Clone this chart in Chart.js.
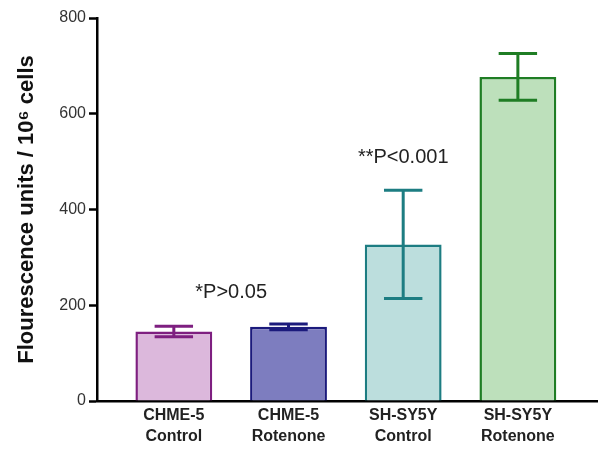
<!DOCTYPE html>
<html>
<head>
<meta charset="utf-8">
<script src="https://cdn.jsdelivr.net/npm/chart.js@4.4.1/dist/chart.umd.min.js"></script>
<style>
  html, body { margin: 0; padding: 0; background: #fff; }
  #wrap { width: 600px; height: 452px; }
</style>
</head>
<body>
<div id="wrap"><canvas id="grafica"></canvas></div>
<script>
// datos
const categorias = [['CHME-5', 'Control'], ['CHME-5', 'Rotenone'], ['SH-SY5Y', 'Control'], ['SH-SY5Y', 'Rotenone']];
const valores = [145, 155, 327, 677];
const errores = [11, 6, 113, 49];
const rellenos = ['#dcb8dc', '#7d7dbf', '#bcdedd', '#bde0bb'];
const bordes = ['#7e1f80', '#1b1a7c', '#1d7d82', '#1f7d24'];
const ticksY = [0, 200, 400, 600, 800];
const notas = [
    { x: 0.5, y: 227, texto: '*P>0.05' },
    { x: 2, y: 509, texto: '**P<0.001' }
];

const fuente = '"Liberation Sans", Arial, sans-serif';

const barrasError = {
    id: 'barrasError',
    afterDatasetsDraw(chart) {
        const ctx = chart.ctx;
        const sx = chart.scales.x, sy = chart.scales.y;
        const meta = chart.getDatasetMeta(0);
        ctx.save();
        valores.forEach((v, i) => {
            const cx = sx.getPixelForValue(i);
            const anchoCap = meta.data[i].width / 2;
            const yArriba = sy.getPixelForValue(v + errores[i]);
            const yAbajo = sy.getPixelForValue(v - errores[i]);
            ctx.strokeStyle = bordes[i];
            ctx.lineWidth = 3;
            ctx.beginPath();
            ctx.moveTo(cx, yArriba); ctx.lineTo(cx, yAbajo);
            ctx.moveTo(cx - anchoCap / 2, yArriba); ctx.lineTo(cx + anchoCap / 2, yArriba);
            ctx.moveTo(cx - anchoCap / 2, yAbajo); ctx.lineTo(cx + anchoCap / 2, yAbajo);
            ctx.stroke();
        });
        ctx.fillStyle = '#222';
        ctx.font = '20px ' + fuente;
        ctx.textAlign = 'center';
        ctx.textBaseline = 'middle';
        notas.forEach(n => {
            ctx.fillText(n.texto, sx.getPixelForValue(n.x), sy.getPixelForValue(n.y));
        });
        ctx.restore();
    }
};

const ctx = document.getElementById('grafica').getContext('2d');
window.grafica = new Chart(ctx, {
    type: 'bar',
    data: {
        datasets: [{
            data: valores.map((v, i) => ({ x: i, y: v })),
            backgroundColor: rellenos,
            borderColor: bordes,
            borderWidth: 2.5,
            barPercentage: 0.67,
            categoryPercentage: 1
        }]
    },
    options: {
        responsive: true,
        maintainAspectRatio: false,
        animation: false,
        layout: { padding: { top: 18, right: 3, left: 0, bottom: 0 } },
        plugins: {
            legend: { display: false },
            tooltip: { enabled: false }
        },
        scales: {
            x: {
                type: 'linear',
                offset: false,
                min: -0.67,
                max: 3.69,
                afterBuildTicks: (s) => { s.ticks = categorias.map((c, i) => ({ value: i })); },
                afterFit: (s) => { s.height = 51; },
                ticks: {
                    callback: (v) => categorias[v],
                    color: '#222',
                    font: { family: fuente, size: 16, weight: 'bold', lineHeight: 1.3 },
                    padding: 4,
                    maxRotation: 0,
                    autoSkip: false
                },
                grid: { display: false, drawTicks: false },
                border: { color: '#000', width: 2.5 }
            },
            y: {
                min: 0,
                max: 800,
                afterBuildTicks: (s) => { s.ticks = ticksY.map(v => ({ value: v })); },
                afterFit: (s) => { s.width = 97; },
                ticks: {
                    color: '#333',
                    font: { family: fuente, size: 16 },
                    padding: 3
                },
                grid: { drawOnChartArea: false, tickLength: 8, color: '#000', tickWidth: 2.5 },
                border: { color: '#000', width: 2.5 },
                title: {
                    display: true,
                    text: 'Flourescence units / 10\u2076 cells',
                    color: '#111',
                    font: { family: fuente, size: 22, weight: 'bold' },
                    padding: { top: 14, bottom: 4 }
                }
            }
        }
    },
    plugins: [barrasError]
});
</script>
</body>
</html>
